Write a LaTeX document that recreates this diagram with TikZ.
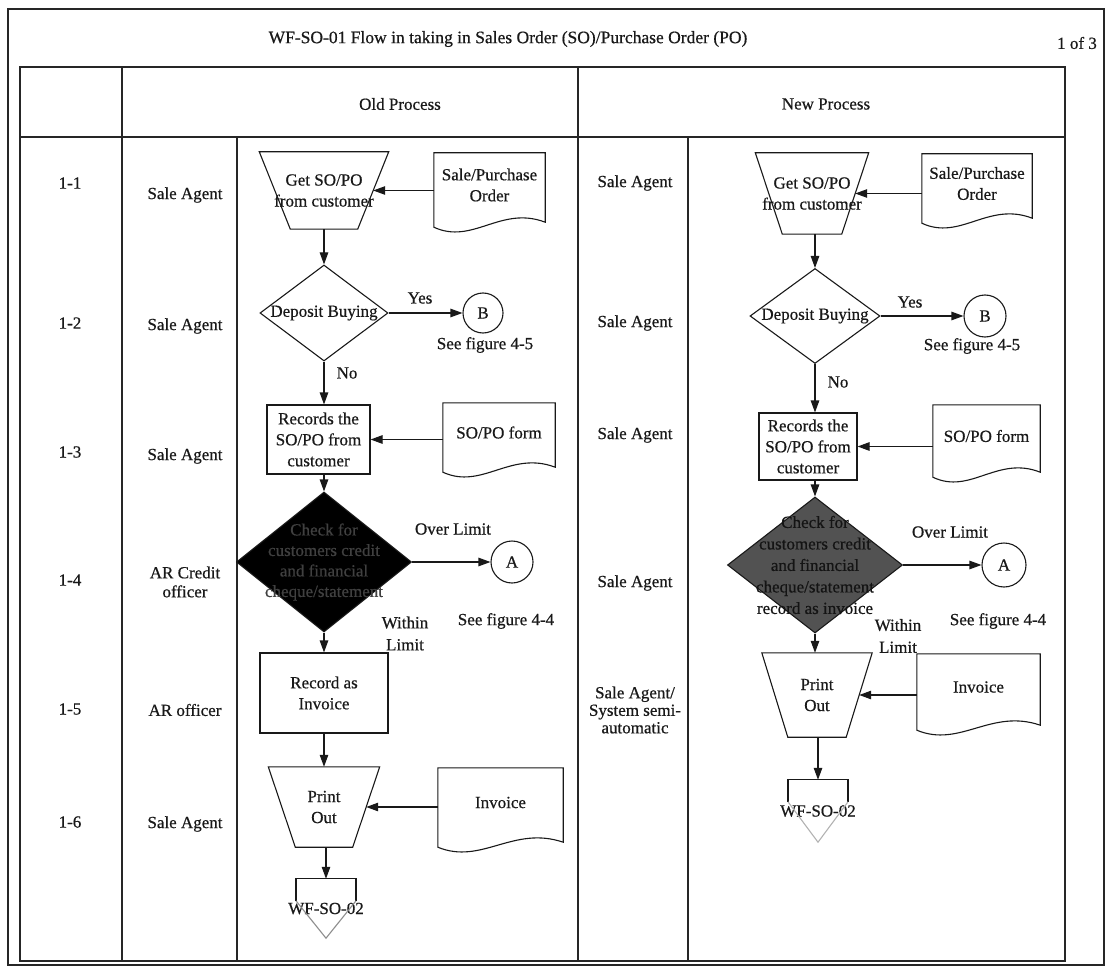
\documentclass[tikz,border=0pt]{standalone}
\usepackage{fontspec}
\setmainfont{Liberation Serif}[FakeBold=0.6]
\usetikzlibrary{shapes.geometric,arrows.meta,calc}

% zero-width line, so that a label may spill over the edge of its symbol
\newcommand{\zl}[1]{\makebox[0pt]{#1}}

% document symbol: flat top, wavy bottom hanging below the node box
\newcommand{\drawdoc}[1]{%
  \draw[shapeline] (#1.north west) -- (#1.north east) -- ([yshift=-5pt]#1.south east)
    .. controls ($(#1.south west)!0.6!(#1.south east)+(0,-12)$)
    and ($(#1.south west)!0.35!(#1.south east)+(0,28)$) .. ([yshift=-10pt]#1.south west) -- cycle;}

% manual operation: wide top, lower corners pulled in by #2
\newcommand{\drawmanop}[2]{%
  \draw[shapeline] (#1.north west) -- (#1.north east) -- ([xshift=-#2pt]#1.south east)
    -- ([xshift=#2pt]#1.south west) -- cycle;}

% off-page connector: open box on top, pointed end below
\newcommand{\drawoffpage}[2]{%
  \draw[shapeline] ($(#1.north)+(-30,22)$) -- ($(#1.north)+(-30,0)$) -- ($(#1.north)+(30,0)$) -- ($(#1.north)+(30,22)$);
  \draw[shapeline,draw=#2] ($(#1.north)+(-30,22)$) -- (#1.south) -- ($(#1.north)+(30,22)$);}

\tikzset{
  every node/.style={font=\fontsize{17}{21}\selectfont, text=black!90},
  grid/.style={draw=black!85, line width=1.4pt},
  shapeline/.style={draw=black!90, line width=1.1pt},
  flow/.style={draw=black!90, line width=1.1pt, -{Triangle[length=12pt,width=8.5pt]}},
  box/.style={shapeline, rectangle, inner sep=2pt, align=center},
  manop/.style={rectangle, inner sep=0pt, align=center},
  decision/.style={shapeline, diamond, inner sep=0pt, align=center},
  conn/.style={shapeline, circle, inner sep=0pt, minimum size=42pt},
  doc/.style={rectangle, inner sep=0pt, align=center},
  offpg/.style={rectangle, inner sep=0pt, minimum width=60pt, minimum height=59pt},
  lbl/.style={inner sep=1pt, align=center},
}

\begin{document}
\begin{tikzpicture}[x=1pt,y=-1pt]
\useasboundingbox (0,0) rectangle (1113,976);

% ---------- frame and table ----------
\draw[grid] (8,9) rectangle (1104,965);
\draw[grid] (20,67) rectangle (1065,961);
\draw[grid] (20,137) -- (1065,137);
\draw[grid] (122,67) -- (122,961);
\draw[grid] (578,67) -- (578,961);
\draw[grid] (237,137) -- (237,961);
\draw[grid] (688,137) -- (688,961);

\node[font=\fontsize{17.5}{21}\selectfont] (title) at (508,39)
  {WF-SO-01 Flow in taking in Sales Order (SO)/Purchase Order (PO)};
\node (page) at (1077,43) {1 of 3};
\node (hold) at (400,104) {Old Process};
\node (hnew) at (826,104) {New Process};

% ---------- step numbers and roles ----------
\node (n1) at (70,183) {1-1};
\node (n2) at (70,323) {1-2};
\node (n3) at (70,452) {1-3};
\node (n4) at (70,580) {1-4};
\node (n5) at (70,709) {1-5};
\node (n6) at (70,822) {1-6};

\node[lbl] (ra1) at (185,195) {Sale Agent};
\node[lbl] (ra2) at (185,326) {Sale Agent};
\node[lbl] (ra3) at (185,456) {Sale Agent};
\node[lbl, font=\fontsize{17}{19}\selectfont] (ra4) at (185,582) {AR Credit\\officer};
\node[lbl] (ra5) at (185,710) {AR officer};
\node[lbl] (ra6) at (185,824) {Sale Agent};

\node[lbl] (rb1) at (635,183) {Sale Agent};
\node[lbl] (rb2) at (635,323) {Sale Agent};
\node[lbl] (rb3) at (635,435) {Sale Agent};
\node[lbl] (rb4) at (635,583) {Sale Agent};
\node[lbl, font=\fontsize{17}{17.5}\selectfont] (rb5) at (635,710) {Sale Agent/\\System semi-\\automatic};

% ---------- old process ----------
\node[manop, minimum width=129pt, minimum height=77pt] (getA) at (324,190.5)
  {\zl{Get SO/PO}\\\zl{from customer}};
\drawmanop{getA}{31}
\node[doc, minimum width=111pt, minimum height=64pt] (spA) at (489.5,185) {Sale/Purchase\\Order};
\drawdoc{spA}
\node[decision, minimum width=128pt, minimum height=96pt] (depA) at (324,313) {\zl{Deposit Buying}};
\node[conn, minimum size=40pt] (BA) at (483,313) {B};
\node[lbl] (yesA) at (420,298) {Yes};
\node[lbl] (seeBA) at (485,345) {See figure 4-5};
\node[lbl] (noA) at (347,373) {No};
\node[box, minimum width=103pt, minimum height=69pt] (recA) at (318.5,439.5) {Records the\\SO/PO from\\customer};
\node[doc, minimum width=112pt, minimum height=59pt] (formA) at (499,432.5) {SO/PO form};
\drawdoc{formA}
\node[decision, fill=black, text=black!75, minimum width=175pt, minimum height=140pt,
  font=\fontsize{17}{20.5}\selectfont] (chkA) at (324,562)
  {\zl{Check for}\\\zl{customers credit}\\\zl{and financial}\\\zl{cheque/statement}};
\node[conn, minimum size=42pt] (AA) at (512,562) {A};
\node[lbl] (overA) at (453,529) {Over Limit};
\node[lbl] (seeAA) at (506,621) {See figure 4-4};
\node[lbl, font=\fontsize{17}{22}\selectfont] (withinA) at (405,633.5) {Within\\Limit};
\node[box, minimum width=128pt, minimum height=80pt] (invA) at (324,693) {Record as\\Invoice};
\node[manop, minimum width=111pt, minimum height=80pt] (prA) at (324,807) {\zl{Print}\\\zl{Out}};
\drawmanop{prA}{27}
\node[doc, minimum width=125pt, minimum height=69pt] (invdocA) at (500.5,802.5) {Invoice};
\drawdoc{invdocA}
\node[offpg] (offA) at (326,908.5) {WF-SO-02};
\drawoffpage{offA}{black!45}

\draw[flow] (spA.west |- getA) -- ([xshift=-15.5pt]getA.east);
\draw[flow] (getA.south -| depA.north) -- (depA.north);
\draw[flow] (depA) -- (BA);
\draw[flow] (depA.south) -- (depA.south |- recA.north);
\draw[flow] (formA.west |- recA) -- (recA);
\draw[flow] (recA.south -| chkA.north) -- (chkA.north);
\draw[flow] (chkA) -- (AA);
\draw[flow] (chkA.south) -- (chkA.south |- invA.north);
\draw[flow] (invA.south -| prA.north) -- (prA.north);
\draw[flow] (invdocA.west |- prA) -- ([xshift=-13.5pt]prA.east);
\draw[flow] (prA.south -| offA.north) -- (offA.north);

% ---------- new process ----------
\node[manop, minimum width=113pt, minimum height=81pt] (getB) at (812,193.5)
  {\zl{Get SO/PO}\\\zl{from customer}};
\drawmanop{getB}{27}
\node[doc, minimum width=110pt, minimum height=59pt] (spB) at (977,183.5) {Sale/Purchase\\Order};
\drawdoc{spB}
\node[decision, minimum width=130pt, minimum height=95pt] (depB) at (815,316) {\zl{Deposit Buying}};
\node[conn, minimum size=42pt] (BB) at (985,316) {B};
\node[lbl] (yesB) at (910,302) {Yes};
\node[lbl] (seeBB) at (972,346) {See figure 4-5};
\node[lbl] (noB) at (838,382) {No};
\node[box, minimum width=98pt, minimum height=67pt] (recB) at (808,446.5) {Records the\\SO/PO from\\customer};
\node[doc, minimum width=107pt, minimum height=62pt] (formB) at (986.5,436) {SO/PO form};
\drawdoc{formB}
\node[decision, fill=black!68, text=black!92, minimum width=175pt, minimum height=136pt,
  font=\fontsize{17}{21.5}\selectfont] (chkB) at (815,565)
  {\zl{Check for}\\\zl{customers credit}\\\zl{and financial}\\\zl{cheque/statement}\\\zl{record as invoice}};
\node[conn, minimum size=44pt] (AB) at (1004,565) {A};
\node[lbl] (overB) at (950,532) {Over Limit};
\node[lbl] (seeAB) at (998,621) {See figure 4-4};
\node[lbl, font=\fontsize{17}{22}\selectfont] (withinB) at (898,636) {Within\\Limit};
\node[manop, minimum width=110pt, minimum height=84pt] (prB) at (817,695) {\zl{Print}\\\zl{Out}};
\drawmanop{prB}{26}
\node[doc, minimum width=123pt, minimum height=66pt] (invdocB) at (978.5,687) {Invoice};
\drawdoc{invdocB}
\node[offpg, minimum height=62pt] (offB) at (818,811) {WF-SO-02};
\drawoffpage{offB}{black!30}

\draw[flow] (spB.west |- getB) -- ([xshift=-13.5pt]getB.east);
\draw[flow] (getB.south -| depB.north) -- (depB.north);
\draw[flow] (depB) -- (BB);
\draw[flow] (depB.south) -- (depB.south |- recB.north);
\draw[flow] (formB.west |- recB) -- (recB);
\draw[flow] (recB.south -| chkB.north) -- (chkB.north);
\draw[flow] (chkB) -- (AB);
\draw[flow] (chkB.south) -- (chkB.south |- prB.north);
\draw[flow] (invdocB.west |- prB) -- ([xshift=-13pt]prB.east);
\draw[flow] (prB.south -| offB.north) -- (offB.north);
\end{tikzpicture}
\end{document}
